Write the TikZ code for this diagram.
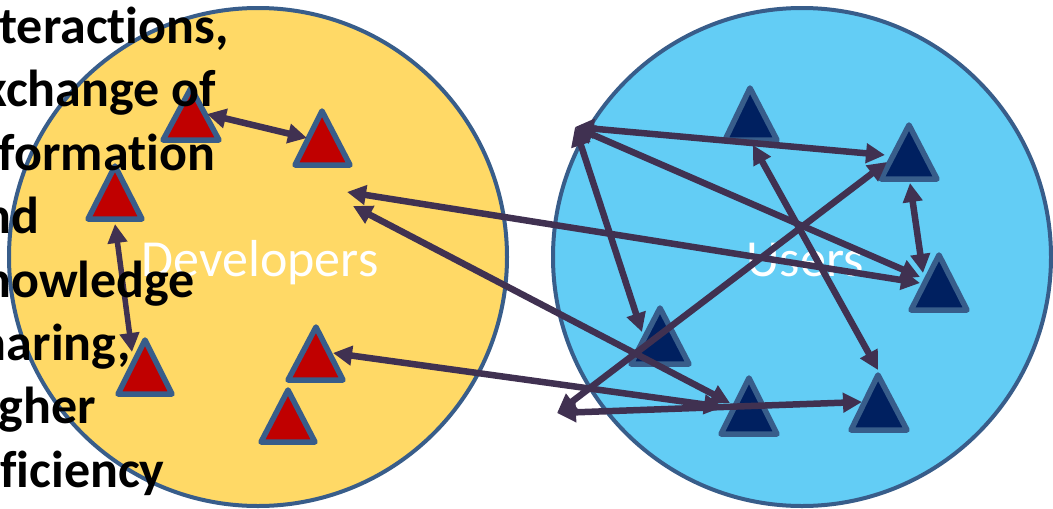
\documentclass[tikz,border=0pt]{standalone}
\usepackage{fontspec}
\setmainfont{Carlito}[Ligatures={NoCommon}]
\usetikzlibrary{arrows.meta}
\definecolor{devfill}{HTML}{FFD966}
\definecolor{usrfill}{HTML}{63CDF5}
\definecolor{rim}{HTML}{385D8A}
\definecolor{redtri}{HTML}{C00000}
\definecolor{navytri}{HTML}{002060}
\definecolor{linkc}{HTML}{403151}
\begin{document}
\begin{tikzpicture}[x=1pt,y=-1pt,
  groupcircle/.style={draw=rim, line width=4pt},
  tri/.style={draw=rim, line width=5.5pt, line join=round},
  linkarrow/.style={draw=linkc, line width=6.5pt,
    {Triangle[length=19pt,width=19pt]}-{Triangle[length=19pt,width=19pt]}},
  grouplabel/.style={text=white, font=\fontsize{52}{62}\selectfont, anchor=base, inner sep=0pt},
  notetext/.style={font=\bfseries\fontsize{52}{62}\selectfont, anchor=base west, inner sep=0pt}]
\useasboundingbox (0,0) rectangle (1053,509);
\begin{scope}
\clip (0,0) rectangle (1053,509);
% groups
\draw[groupcircle, fill=devfill] (258,257) circle[radius=249];
\draw[groupcircle, fill=usrfill] (802,257) circle[radius=249];
\node[grouplabel] (dev) at (260,276) {Developers};
\node[grouplabel] (usr) at (805,276) {Users};
% developer triangles
\draw[tri, fill=redtri] (191,88) -- (219,140) -- (163,140) -- cycle;
\draw[tri, fill=redtri] (322,111) -- (350,165) -- (295,165) -- cycle;
\draw[tri, fill=redtri] (115,166) -- (142,219) -- (88,219) -- cycle;
\draw[tri, fill=redtri] (145,340) -- (172,394) -- (118,394) -- cycle;
\draw[tri, fill=redtri] (316,327) -- (343,380) -- (288,380) -- cycle;
\draw[tri, fill=redtri] (288,390) -- (315,442) -- (261,442) -- cycle;
% user triangles
\draw[tri, fill=navytri] (750,88) -- (777,140) -- (725,140) -- cycle;
\draw[tri, fill=navytri] (909,125) -- (937,179) -- (881,179) -- cycle;
\draw[tri, fill=navytri] (939,255) -- (967,310) -- (911,310) -- cycle;
\draw[tri, fill=navytri] (660,308) -- (689,364) -- (631,364) -- cycle;
\draw[tri, fill=navytri] (749,378) -- (777,434) -- (721,434) -- cycle;
\draw[tri, fill=navytri] (878,375) -- (907,430) -- (851,430) -- cycle;
% arrow end points
\coordinate (D1r) at (207,114);
\coordinate (D2l) at (307,138);
\coordinate (D3b) at (115,224);
\coordinate (D4l) at (132,352);
\coordinate (P1) at (575,127);
\coordinate (U2l) at (885,155);
\coordinate (U3a) at (920,277);
\coordinate (U3b) at (920,283);
\coordinate (U4t) at (642,332);
\coordinate (Dv1) at (347,192);
\coordinate (Dv2) at (353,206);
\coordinate (U5a) at (730,403);
\coordinate (U5b) at (723,407);
\coordinate (D5r) at (333,353);
\coordinate (P2) at (557,413);
\coordinate (U2b) at (887,162);
\coordinate (U6l) at (862,402);
\coordinate (U1b) at (753,145);
\coordinate (U6t) at (878,370);
\coordinate (U2d) at (910,183);
\coordinate (U3t) at (923,273);
% arrows
\draw[linkarrow] (D1r) -- (D2l);
\draw[linkarrow, line width=5.5pt] (D3b) -- (D4l);
\draw[linkarrow] (P1) -- (U2l);
\draw[linkarrow] (P1) -- (U3a);
\draw[linkarrow] (P1) -- (U4t);
\draw[linkarrow] (Dv1) -- (U3b);
\draw[linkarrow] (Dv2) -- (U5a);
\draw[linkarrow] (D5r) -- (U5b);
\draw[linkarrow] (P2) -- (U2b);
\draw[linkarrow] (P2) -- (U6l);
\draw[linkarrow] (U1b) -- (U6t);
\draw[linkarrow] (U2d) -- (U3t);
% side text
\node[notetext] (l1) at (-42,43) {Interactions,};
\node[notetext] (l2) at (-42,106) {exchange of};
\node[notetext] (l3) at (-42,170) {information};
\node[notetext] (l4) at (-42,233) {and};
\node[notetext] (l5) at (-42,297) {knowledge};
\node[notetext] (l6) at (-42,360) {sharing,};
\node[notetext] (l7) at (-42,423) {higher};
\node[notetext] (l8) at (-42,487) {efficiency};
\end{scope}
\end{tikzpicture}
\end{document}
